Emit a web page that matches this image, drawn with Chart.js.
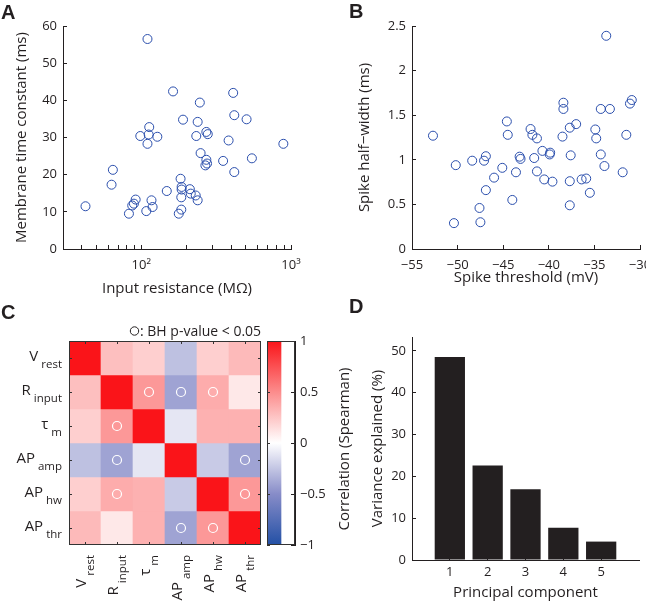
<!DOCTYPE html>
<html lang="en">
<head>
<meta charset="UTF-8">
<title>Electrophysiology figure</title>
<script src="https://cdn.jsdelivr.net/npm/chart.js"></script>
<style>
    body { margin: 0; background: #fff; }
    #wrap { position: relative; width: 646px; height: 603px; overflow: hidden; }
    canvas { position: absolute; left: 0; top: 0; }
    .letter { position: absolute; font: bold 20px "Liberation Sans", Arial, sans-serif; color: #231f20; line-height: 1; }
</style>
</head>
<body>
<div id="wrap">
    <canvas id="chartA" width="646" height="603"></canvas>
    <canvas id="chartB" width="646" height="603"></canvas>
    <canvas id="chartC" width="646" height="603"></canvas>
    <canvas id="chartCbar" width="646" height="603"></canvas>
    <canvas id="chartD" width="646" height="603"></canvas>
    <div class="letter" style="left:1px;top:2px">A</div>
    <div class="letter" style="left:349px;top:1px">B</div>
    <div class="letter" style="left:1px;top:302px">C</div>
    <div class="letter" style="left:349px;top:296px">D</div>
</div>
<script>
// ---- data ----
// A: input resistance (MOhm) vs membrane time constant (ms)
const inputResistance = [110, 163, 246, 411, 190, 238, 418, 505, 113, 112, 98.5, 128, 110, 233, 272, 278,
    383, 889, 249, 272, 268, 275, 352, 548, 418, 64.6, 63.3, 183, 186, 186, 148, 211,
    214, 231, 238, 185, 42.4, 91.7, 89.3, 87, 82.7, 117, 119, 108, 185, 178];
const membraneTau = [56.5, 42.4, 39.4, 42.0, 34.8, 34.2, 36.0, 34.9, 32.8, 30.8, 30.4, 30.2, 28.3, 30.4, 31.5, 30.9,
    29.2, 28.3, 25.8, 24.0, 22.5, 23.0, 23.7, 24.4, 20.7, 21.3, 17.3, 18.9, 16.7, 16.0, 15.6, 16.1,
    14.9, 14.4, 13.1, 13.9, 11.5, 13.3, 12.2, 11.7, 9.5, 13.1, 11.3, 10.2, 10.6, 9.5];
const resistanceTicks = [40, 50, 60, 70, 80, 90, 100, 200, 300, 400, 500, 600, 700, 800, 900, 1000];

// B: spike threshold (mV) vs spike half-width (ms)
const spikeThreshold = [-52.7, -50.2, -50.4, -48.4, -46.9, -47.1, -46.9, -47.6, -47.5, -46.0, -45.1, -44.6, -44.5,
    -43.6, -44.0, -43.2, -43.1, -42.0, -41.8, -41.3, -41.6, -41.3, -40.7, -39.9, -39.85, -40.5, -39.6,
    -38.5, -38.4, -38.4, -37.7, -37.0, -37.6, -37.7, -37.7, -36.4, -35.9, -35.5, -34.9, -34.8, -34.3,
    -33.9, -34.3, -33.3, -33.7, -31.5, -31.9, -31.1, -30.9];
const spikeHalfWidth = [1.27, 0.94, 0.29, 0.99, 1.04, 0.99, 0.66, 0.46, 0.30, 0.80, 0.91, 1.43, 1.28,
    0.86, 0.55, 1.035, 1.01, 1.345, 1.28, 1.24, 1.02, 0.87, 1.10, 1.06, 1.08, 0.78, 0.755,
    1.26, 1.64, 1.57, 1.36, 1.40, 1.05, 0.76, 0.49, 0.78, 0.79, 0.63, 1.34, 1.24, 1.06,
    0.93, 1.57, 1.57, 2.39, 1.28, 0.86, 1.63, 1.67];

// C: Spearman correlation matrix
const paramMain = ['V', 'R', 'τ', 'AP', 'AP', 'AP'];
const paramSub = ['rest', 'input', 'm', 'amp', 'hw', 'thr'];
const corrMatrix = [
    [1.00, 0.28, 0.21, -0.27, 0.21, 0.30],
    [0.28, 1.00, 0.45, -0.40, 0.36, 0.10],
    [0.21, 0.45, 1.00, -0.11, 0.34, 0.34],
    [-0.27, -0.40, -0.11, 1.00, -0.23, -0.40],
    [0.21, 0.36, 0.34, -0.23, 1.00, 0.45],
    [0.30, 0.10, 0.34, -0.40, 0.45, 1.00]
];
// [row, col] cells with BH p-value < 0.05
const significantCells = [[1, 2], [1, 3], [1, 4], [2, 1], [3, 1], [3, 5], [4, 1], [4, 5], [5, 3], [5, 4]];
const colorbarTicks = [-1, -0.5, 0, 0.5, 1];

// D: PCA variance explained
const components = [1, 2, 3, 4, 5];
const varianceExplained = [48.5, 22.6, 16.9, 7.7, 4.4];

// ---- style ----
const W = 646, H = 603;
const INK = '#231f20';
const MARK = 'rgb(42,78,172)';
const FONT = "'Open Sans', sans-serif";
const TICK_FONT = { family: FONT, size: 13 };
const TITLE_FONT = { family: FONT, size: 15 };
const cmap = [[-1, [35, 80, 165]], [-0.5, [135, 140, 200]], [0, [255, 255, 255]], [0.5, [252, 140, 140]], [1, [250, 20, 25]]];

Chart.defaults.font.family = FONT;
Chart.defaults.color = INK;
Chart.defaults.animation = false;
Chart.defaults.responsive = false;
Chart.defaults.plugins.legend.display = false;
Chart.defaults.plugins.tooltip.enabled = false;

function corrColor(v) {
    for (let k = 1; k < cmap.length; k++) {
        if (v <= cmap[k][0]) {
            const [v0, c0] = cmap[k - 1], [v1, c1] = cmap[k];
            const t = (v - v0) / (v1 - v0);
            const c = c0.map((a, i) => Math.round(a + (c1[i] - a) * t));
            return `rgb(${c[0]},${c[1]},${c[2]})`;
        }
    }
    return 'rgb(250,20,25)';
}

const minus = v => String(v).replace('-', '\u2212');

// chart area [left, top, right, bottom] -> layout padding with fixed axis sizes
function pad(area, yw, xh) {
    return { left: area[0] - yw, top: area[1], right: W - area[2] - (area[4] || 0), bottom: H - area[3] - xh };
}

function axis(o) {
    const s = {
        type: o.type || 'linear',
        position: o.position,
        min: o.min, max: o.max,
        offset: false,
        border: { display: true, color: INK, width: 1 },
        grid: { drawOnChartArea: false, offset: false, tickLength: -4, color: INK, lineWidth: 1 },
        ticks: {
            font: TICK_FONT, color: INK, padding: o.tickPad, autoSkip: false,
            maxRotation: 0, minRotation: 0, includeBounds: false, stepSize: o.step,
            callback: o.cb || (v => minus(v))
        },
        title: o.title ? { display: true, text: o.title, font: TITLE_FONT, color: INK, padding: o.titlePad } : { display: false },
        afterFit: o.size
    };
    if (o.tickValues) s.afterBuildTicks = sc => { sc.ticks = o.tickValues.map(v => ({ value: v })); };
    return s;
}
const fixW = w => s => { s.width = w; s.paddingTop = 0; s.paddingBottom = 0; };
const fixH = h => s => { s.height = h; s.paddingLeft = 0; s.paddingRight = 0; };

// ---- A ----
const areaA = [63, 26, 291, 249];
new Chart(document.getElementById('chartA'), {
    type: 'scatter',
    data: {
        datasets: [{
            data: inputResistance.map((r, i) => ({ x: r, y: membraneTau[i] })),
            pointStyle: 'circle', pointRadius: 4.5, borderWidth: 1,
            borderColor: MARK, backgroundColor: 'rgba(0,0,0,0)'
        }]
    },
    options: {
        layout: { padding: pad(areaA, 58, 50) },
        scales: {
            x: axis({ type: 'logarithmic', position: 'bottom', min: 30, max: 1000, tickPad: 12,
                tickValues: resistanceTicks,
                cb: v => v === 100 ? '10²' : v === 1000 ? '10³' : '',
                title: 'Input resistance (MΩ)', titlePad: { top: 0, bottom: 1 }, size: fixH(50) }),
            y: axis({ position: 'left', min: 0, max: 60, step: 10, tickPad: 10,
                title: 'Membrane time constant (ms)', titlePad: { top: 8, bottom: 0 }, size: fixW(58) })
        }
    }
});

// ---- B ----
const areaB = [412, 26, 640, 249];
new Chart(document.getElementById('chartB'), {
    type: 'scatter',
    data: {
        datasets: [{
            data: spikeThreshold.map((t, i) => ({ x: t, y: spikeHalfWidth[i] })),
            pointStyle: 'circle', pointRadius: 4.5, borderWidth: 1,
            borderColor: MARK, backgroundColor: 'rgba(0,0,0,0)'
        }]
    },
    options: {
        layout: { padding: pad(areaB, 62, 50) },
        scales: {
            x: axis({ position: 'bottom', min: -55, max: -30, step: 5, tickPad: 12,
                title: 'Spike threshold (mV)', titlePad: { top: 0, bottom: 12 }, size: fixH(50) }),
            y: axis({ position: 'left', min: 0, max: 2.5, step: 0.5, tickPad: 10, cb: v => String(v),
                title: 'Spike half\u2212width (ms)', titlePad: { top: 6, bottom: 0 }, size: fixW(62) })
        }
    }
});

// ---- C: heatmap ----
function drawLabel(ctx, x, y, i, rotated) {
    ctx.save();
    ctx.translate(x, y);
    if (rotated) ctx.rotate(-Math.PI / 2);
    ctx.fillStyle = INK;
    ctx.textAlign = 'right';
    ctx.textBaseline = 'alphabetic';
    ctx.font = `11.5px ${FONT}`;
    const sw = ctx.measureText(paramSub[i]).width;
    ctx.fillText(paramSub[i], 0, rotated ? 9 : 10);
    ctx.font = `15px ${FONT}`;
    ctx.fillText(paramMain[i], -sw - 3, rotated ? 1 : 3);
    ctx.restore();
}

const heatDecor = {
    id: 'heatDecor',
    afterDraw(chart) {
        const { ctx, chartArea: a, scales: { x, y } } = chart;
        ctx.save();
        ctx.strokeStyle = '#333';
        ctx.lineWidth = 1;
        ctx.strokeRect(a.left + 0.5, a.top + 0.5, a.width - 1, a.height - 1);
        ctx.beginPath();
        paramSub.forEach((_, k) => {
            const px = Math.round(x.getPixelForValue(k + 0.5)) + 0.5;
            const py = Math.round(y.getPixelForValue(k + 0.5)) + 0.5;
            ctx.moveTo(px, a.bottom); ctx.lineTo(px, a.bottom - 3);
            ctx.moveTo(px, a.top); ctx.lineTo(px, a.top + 3);
            ctx.moveTo(a.left, py); ctx.lineTo(a.left + 3, py);
            ctx.moveTo(a.right, py); ctx.lineTo(a.right - 3, py);
        });
        ctx.stroke();
        paramSub.forEach((_, k) => {
            drawLabel(ctx, a.left - 7, y.getPixelForValue(k + 0.5), k, false);
            drawLabel(ctx, x.getPixelForValue(k + 0.5), a.bottom + 10, k, true);
        });
        // significance legend
        ctx.beginPath();
        ctx.strokeStyle = INK;
        ctx.arc(134.5, 331, 4.2, 0, Math.PI * 2);
        ctx.stroke();
        ctx.fillStyle = INK;
        ctx.font = `14px ${FONT}`;
        ctx.textAlign = 'left';
        ctx.textBaseline = 'alphabetic';
        ctx.fillText(': BH p-value < 0.05', 140, 336);
        ctx.restore();
    }
};

const areaC = [69, 341, 261, 545];
const heatSets = corrMatrix.map((row, i) => ({
    type: 'bar',
    order: 1,
    grouped: false,
    data: row.map((v, j) => ({ x: j + 0.5, y: [i, i + 1] })),
    backgroundColor: row.map(corrColor),
    borderWidth: 0,
    barPercentage: 1,
    categoryPercentage: 1
}));
new Chart(document.getElementById('chartC'), {
    type: 'bar',
    data: {
        datasets: [{
            type: 'scatter',
            order: 0,
            data: significantCells.map(([i, j]) => ({ x: j + 0.5, y: i + 0.5 })),
            pointStyle: 'circle', pointRadius: 4.5, borderWidth: 1.2,
            borderColor: '#fff', backgroundColor: 'rgba(0,0,0,0)'
        }, ...heatSets]
    },
    options: {
        layout: { padding: pad(areaC, 0, 0) },
        scales: {
            x: { type: 'linear', min: 0, max: 6, offset: false, display: false },
            y: { type: 'linear', min: 0, max: 6, reverse: true, display: false }
        }
    },
    plugins: [heatDecor]
});

// ---- C: colorbar ----
const areaCbar = [267, 341, 295, 545, 40];
const cbarDecor = {
    id: 'cbarDecor',
    afterDraw(chart) {
        const { ctx, chartArea: a, scales: { y } } = chart;
        ctx.save();
        ctx.strokeStyle = '#333';
        ctx.lineWidth = 1;
        ctx.strokeRect(a.left + 0.5, a.top + 0.5, a.width - 1, a.height - 1);
        ctx.beginPath();
        colorbarTicks.forEach(v => {
            const py = Math.round(y.getPixelForValue(v)) + 0.5;
            ctx.moveTo(a.left, py); ctx.lineTo(a.left + 3, py);
        });
        ctx.stroke();
        ctx.translate(345, (a.top + a.bottom) / 2 + 6);
        ctx.rotate(-Math.PI / 2);
        ctx.fillStyle = INK;
        ctx.font = `15px ${FONT}`;
        ctx.textAlign = 'center';
        ctx.textBaseline = 'middle';
        ctx.fillText('Correlation (Spearman)', 0, 0);
        ctx.restore();
    }
};
new Chart(document.getElementById('chartCbar'), {
    type: 'bar',
    data: {
        labels: ['r'],
        datasets: [{
            data: [[-1, 1]],
            barPercentage: 1, categoryPercentage: 1, borderWidth: 0,
            backgroundColor: ctx => {
                const c = ctx.chart;
                if (!c.chartArea) return '#fff';
                const y = c.scales.y;
                const g = c.ctx.createLinearGradient(0, y.getPixelForValue(-1), 0, y.getPixelForValue(1));
                cmap.forEach(([v, col]) => g.addColorStop((v + 1) / 2, `rgb(${col[0]},${col[1]},${col[2]})`));
                return g;
            }
        }]
    },
    options: {
        layout: { padding: pad(areaCbar, 0, 0) },
        scales: {
            x: { display: false, offset: false },
            y: axis({ position: 'right', min: -1, max: 1, step: 0.5, tickPad: 9,
                tickValues: colorbarTicks, cb: v => minus(v), size: fixW(40) })
        }
    },
    plugins: [cbarDecor]
});

// ---- D ----
const areaD = [412, 337, 639, 560];
new Chart(document.getElementById('chartD'), {
    type: 'bar',
    data: {
        datasets: [{
            data: components.map((c, i) => ({ x: c, y: varianceExplained[i] })),
            backgroundColor: INK,
            borderWidth: 0,
            barPercentage: 0.8,
            categoryPercentage: 1
        }]
    },
    options: {
        layout: { padding: pad(areaD, 52, 43) },
        scales: {
            x: axis({ position: 'bottom', min: 0, max: 6, tickPad: 8, tickValues: components,
                title: 'Principal component', titlePad: { top: 0, bottom: 1 }, size: fixH(43) }),
            y: axis({ position: 'left', min: 0, max: 53.3, step: 10, tickPad: 10,
                title: 'Variance explained (%)', titlePad: { top: 9, bottom: 0 }, size: fixW(52) })
        }
    }
});
</script>
</body>
</html>
